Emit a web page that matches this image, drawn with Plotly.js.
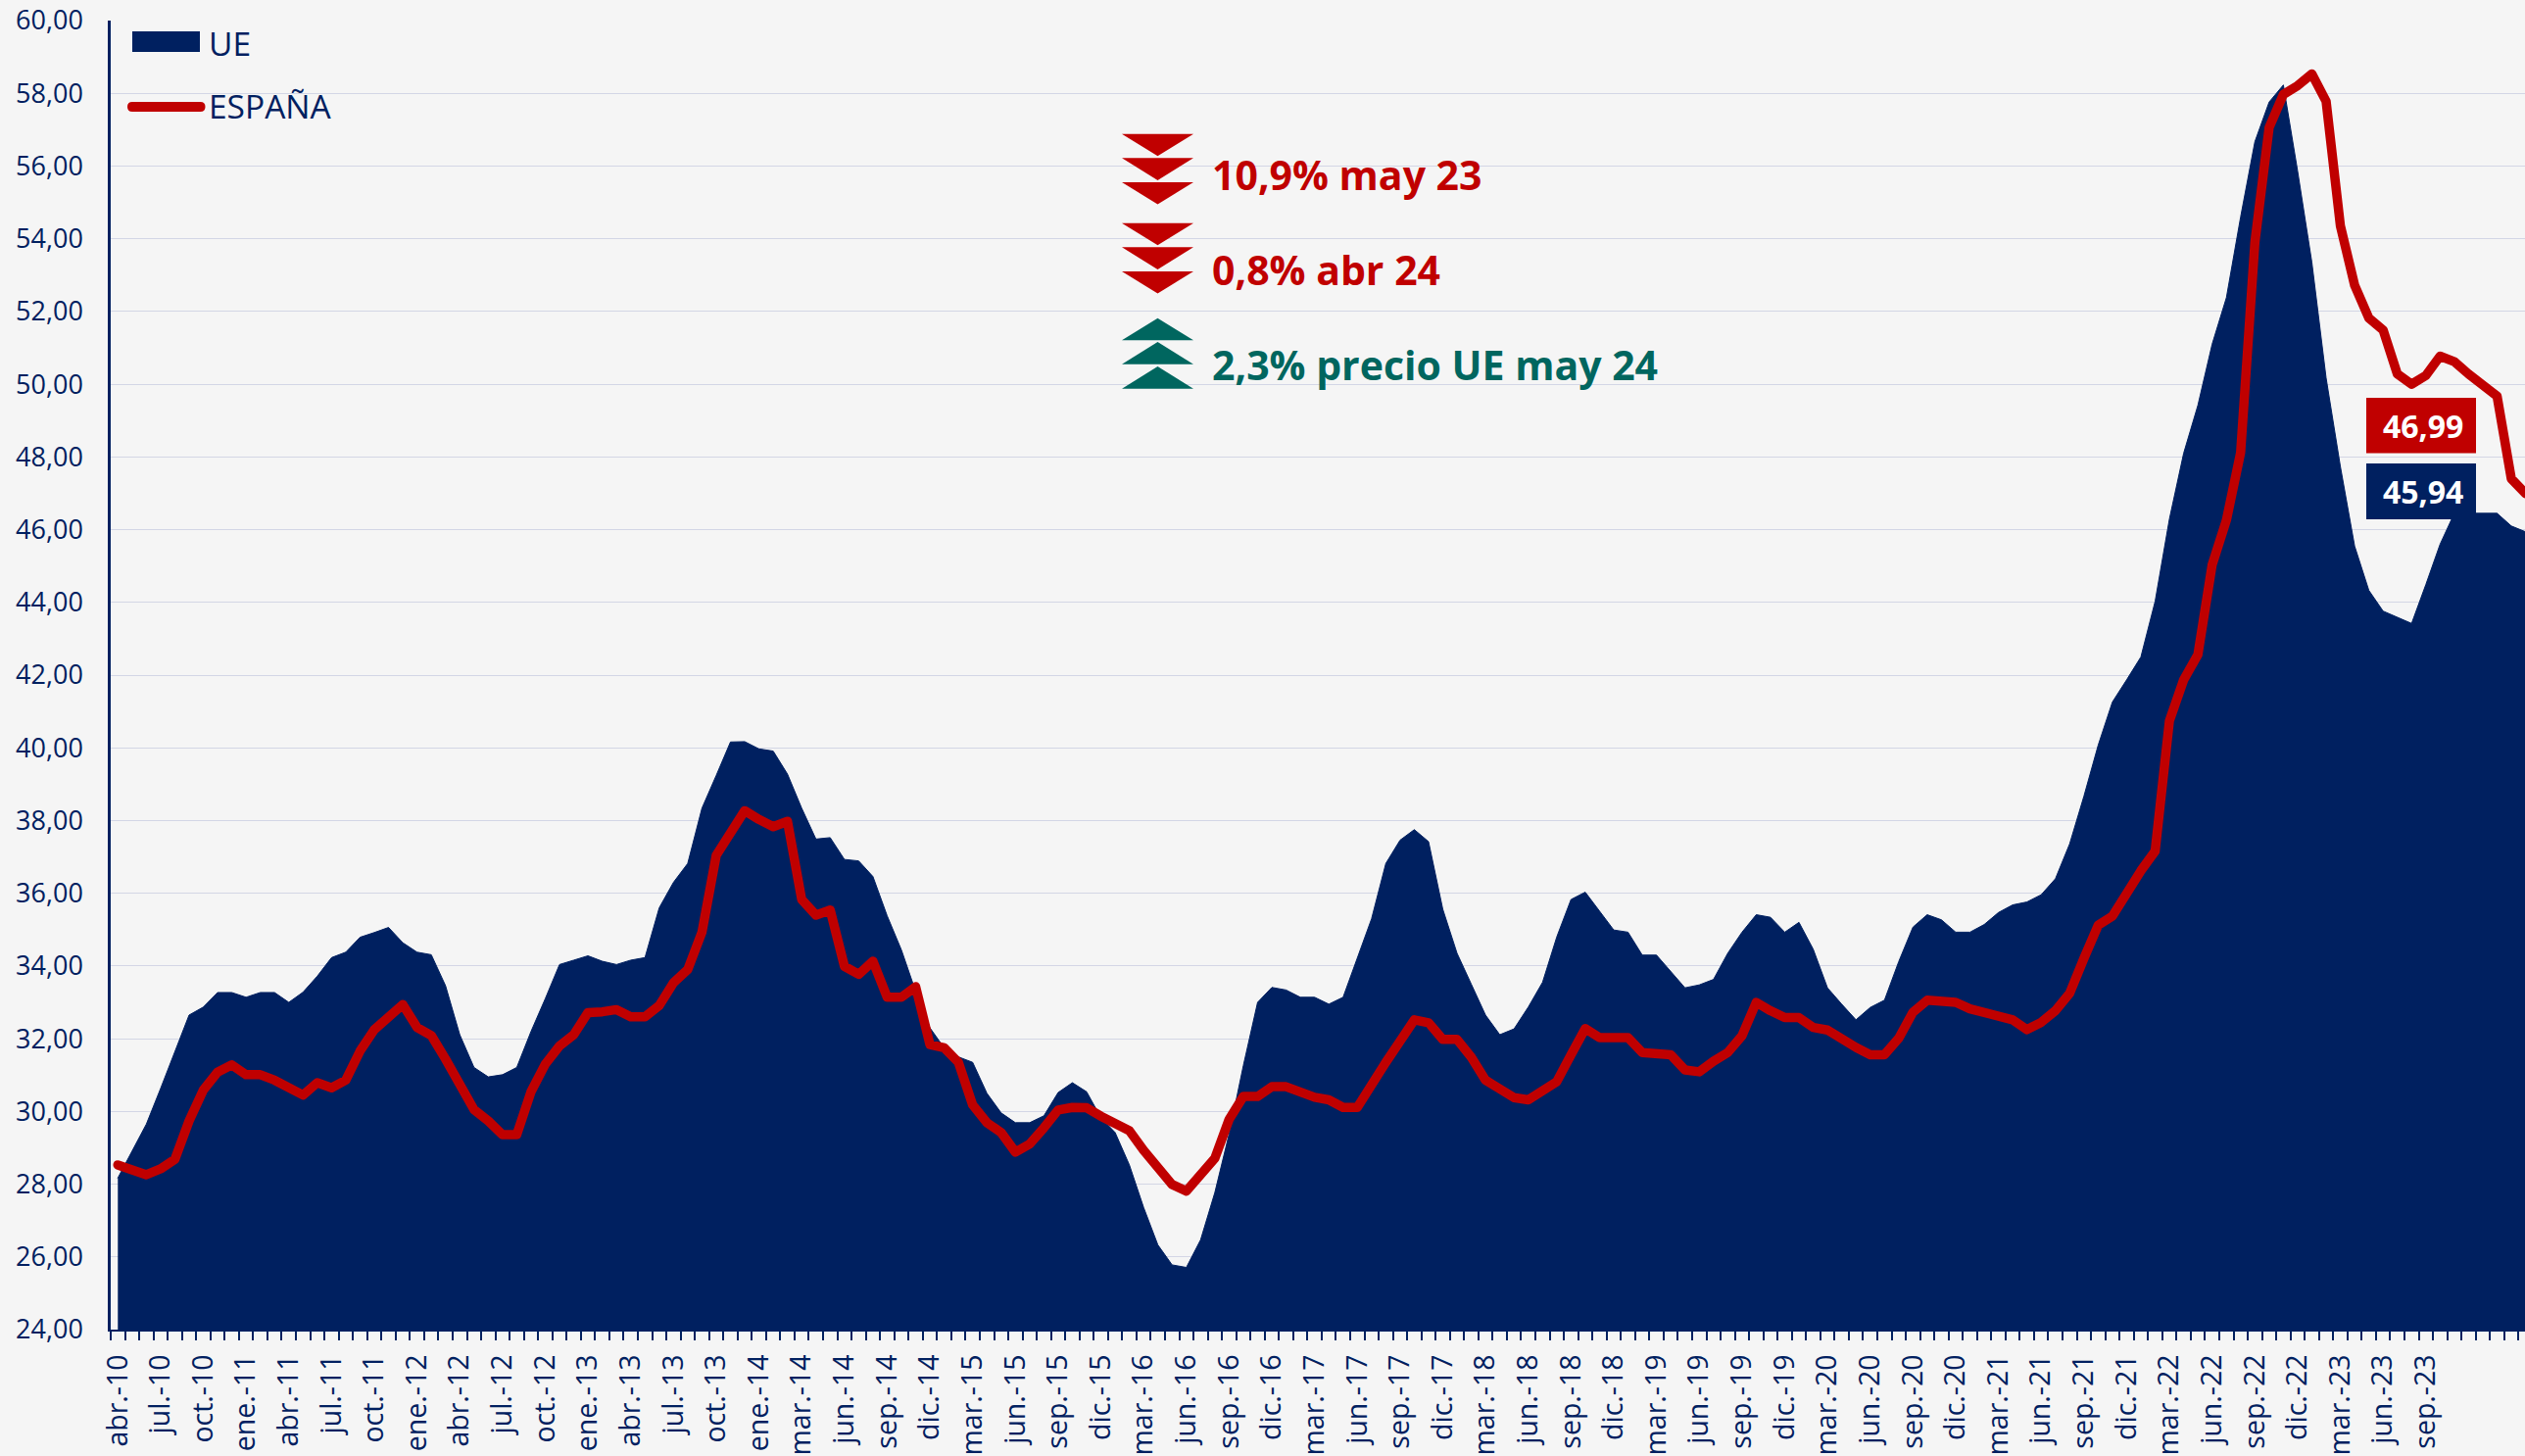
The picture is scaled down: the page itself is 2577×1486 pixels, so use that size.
<!DOCTYPE html>
<html>
<head>
<meta charset="utf-8">
<script src="https://cdn.plot.ly/plotly-3.0.1.min.js"></script>
<style>
html,body{margin:0;padding:0;background:#f5f5f5;overflow:hidden}
#chart{width:2577px;height:1486px}
.scatterlayer .js-line{stroke-linecap:round!important;stroke-linejoin:round!important}
</style>
</head>
<body>
<div id="chart"></div>
<script>
const months = [
"abr.-10","may.-10","jun.-10","jul.-10","ago.-10","sep.-10","oct.-10","nov.-10","dic.-10",
"ene.-11","feb.-11","mar.-11","abr.-11","may.-11","jun.-11","jul.-11","ago.-11","sep.-11","oct.-11","nov.-11","dic.-11",
"ene.-12","feb.-12","mar.-12","abr.-12","may.-12","jun.-12","jul.-12","ago.-12","sep.-12","oct.-12","nov.-12","dic.-12",
"ene.-13","feb.-13","mar.-13","abr.-13","may.-13","jun.-13","jul.-13","ago.-13","sep.-13","oct.-13","nov.-13","dic.-13",
"ene.-14","feb.-14","feb.-14 bis","mar.-14","abr.-14","may.-14","jun.-14","jul.-14","ago.-14","sep.-14","oct.-14","nov.-14","dic.-14",
"ene.-15","feb.-15","mar.-15","abr.-15","may.-15","jun.-15","jul.-15","ago.-15","sep.-15","oct.-15","nov.-15","dic.-15",
"ene.-16","feb.-16","mar.-16","abr.-16","may.-16","jun.-16","jul.-16","ago.-16","sep.-16","oct.-16","nov.-16","dic.-16",
"ene.-17","feb.-17","mar.-17","abr.-17","may.-17","jun.-17","jul.-17","ago.-17","sep.-17","oct.-17","nov.-17","dic.-17",
"ene.-18","feb.-18","mar.-18","abr.-18","may.-18","jun.-18","jul.-18","ago.-18","sep.-18","oct.-18","nov.-18","dic.-18",
"ene.-19","feb.-19","mar.-19","abr.-19","may.-19","jun.-19","jul.-19","ago.-19","sep.-19","oct.-19","nov.-19","dic.-19",
"ene.-20","feb.-20","mar.-20","abr.-20","may.-20","jun.-20","jul.-20","ago.-20","sep.-20","oct.-20","nov.-20","dic.-20",
"ene.-21","feb.-21","mar.-21","abr.-21","may.-21","jun.-21","jul.-21","ago.-21","sep.-21","oct.-21","nov.-21","dic.-21",
"ene.-22","feb.-22","mar.-22","abr.-22","may.-22","jun.-22","jul.-22","ago.-22","sep.-22","oct.-22","nov.-22","dic.-22",
"ene.-23","feb.-23","mar.-23","abr.-23","may.-23","jun.-23","jul.-23","ago.-23","sep.-23","oct.-23","nov.-23","dic.-23",
"ene.-24","feb.-24","mar.-24","abr.-24"];

const tickLabels = [
"abr.-10","jul.-10","oct.-10","ene.-11","abr.-11","jul.-11","oct.-11","ene.-12","abr.-12","jul.-12","oct.-12",
"ene.-13","abr.-13","jul.-13","oct.-13","ene.-14","mar.-14","jun.-14","sep.-14","dic.-14","mar.-15","jun.-15",
"sep.-15","dic.-15","mar.-16","jun.-16","sep.-16","dic.-16","mar.-17","jun.-17","sep.-17","dic.-17","mar.-18",
"jun.-18","sep.-18","dic.-18","mar.-19","jun.-19","sep.-19","dic.-19","mar.-20","jun.-20","sep.-20","dic.-20",
"mar.-21","jun.-21","sep.-21","dic.-21","mar.-22","jun.-22","sep.-22","dic.-22","mar.-23","jun.-23","sep.-23"];

const ue = [
28.17,28.89,29.65,30.63,31.66,32.65,32.87,33.27,33.27,33.14,33.27,33.27,33.0,33.28,33.72,34.23,34.38,34.79,34.92,35.06,
34.64,34.38,34.31,33.46,32.11,31.21,30.95,31.01,31.21,32.2,33.1,34.04,34.16,34.28,34.13,34.04,34.16,34.23,35.6,36.3,
36.82,38.34,39.24,40.16,40.17,39.97,39.91,39.28,38.34,37.49,37.53,36.93,36.89,36.46,35.38,34.44,33.3,32.3,31.75,31.5,
31.35,30.5,29.96,29.69,29.69,29.88,30.52,30.79,30.54,29.83,29.42,28.53,27.36,26.33,25.78,25.71,26.47,27.77,29.38,31.26,
33.0,33.41,33.34,33.14,33.14,32.95,33.14,34.2,35.3,36.82,37.46,37.75,37.42,35.56,34.35,33.5,32.65,32.11,32.27,32.87,
33.55,34.8,35.83,36.03,35.51,34.99,34.93,34.3,34.3,33.85,33.4,33.48,33.63,34.35,34.93,35.41,35.34,34.93,35.2,34.46,
33.4,32.95,32.52,32.86,33.06,34.12,35.07,35.41,35.27,34.93,34.93,35.14,35.47,35.68,35.76,35.96,36.4,37.36,38.67,40.07,
41.26,41.87,42.5,44.03,46.29,48.1,49.42,51.1,52.38,54.6,56.67,57.76,58.23,55.86,53.35,50.17,47.74,45.55,44.33,43.76,
43.58,43.42,44.49,45.6,46.45,46.45,46.45,46.45,46.1,45.94];

const espana = [
28.53,28.37,28.26,28.42,28.68,29.74,30.59,31.08,31.28,31.01,31.01,30.86,30.65,30.45,30.79,30.65,30.86,31.66,32.25,32.56,
32.94,32.31,32.09,31.44,30.77,30.05,29.74,29.36,29.36,30.54,31.3,31.8,32.11,32.72,32.74,32.8,32.6,32.6,32.91,33.54,
33.9,34.93,37.04,37.62,38.27,38.03,37.83,37.98,35.83,35.4,35.54,33.99,33.77,34.13,33.14,33.14,33.43,31.84,31.75,31.35,
30.18,29.69,29.42,28.88,29.1,29.55,30.04,30.11,30.1,29.87,29.65,29.47,28.93,28.44,27.99,27.81,28.26,28.71,29.78,30.41,
30.41,30.68,30.68,30.54,30.39,30.32,30.11,30.11,30.77,31.35,31.93,32.52,32.44,31.98,31.98,31.49,30.86,30.65,30.38,30.32,
30.59,30.82,31.56,32.28,32.03,32.03,32.03,31.62,31.62,31.56,31.14,31.09,31.38,31.62,32.08,33.0,32.77,32.58,32.58,32.31,
32.24,31.98,31.76,31.56,31.56,32.01,32.73,33.06,33.0,33.0,32.82,32.73,32.59,32.52,32.25,32.45,32.77,33.25,34.21,35.12,
35.37,36.03,36.62,37.16,40.74,41.87,42.56,45.03,46.26,48.12,53.9,57.06,57.97,58.21,58.53,57.78,54.36,52.72,51.82,51.49,
50.28,50.0,50.24,50.77,50.62,50.28,49.95,49.67,47.4,46.99];

const notes = ["10,9% may 23","0,8% abr 24","2,3% precio UE may 24"];
const lastLabels = ["46,99","45,94"];

const NAVY="#002060", RED="#C00000", TEAL="#00665F";
const W=2577,H=1486,L=113,T=21,B=1357;
const px=x=>(x-L)/(W-L), py=y=>(B-y)/(B-T);
const FONT="'Open Sans', sans-serif";

// tick text: a label every third position, as in the reference
const tickText = months.map((m,i)=> (i%3===0 && tickLabels[i/3]) ? tickLabels[i/3] : "");

function tri(x0,x1,yBase,yApex,color){
  const m=(x0+x1)/2;
  return {type:"path",xref:"paper",yref:"paper",layer:"above",fillcolor:color,line:{width:0},
    path:`M${px(x0)},${py(yBase)}L${px(x1)},${py(yBase)}L${px(m)},${py(yApex)}Z`};
}
const shapes=[];
[136.7,161.3,186,227.7,252.3,277].forEach(t=>shapes.push(tri(1145,1218,t,t+22.6,RED)));
[347.3,371.7,396.7].forEach(b=>shapes.push(tri(1145,1218,b,b-22.6,TEAL)));
// legend keys
shapes.push({type:"rect",xref:"paper",yref:"paper",layer:"above",x0:px(135),x1:px(204),y0:py(53),y1:py(32),fillcolor:NAVY,line:{width:0}});
(function(){
  const x0=130,x1=209.5,yc=109,r=5;
  shapes.push({type:"path",xref:"paper",yref:"paper",layer:"above",fillcolor:RED,line:{width:0},
   path:`M${px(x0+r)},${py(yc-r)}L${px(x1-r)},${py(yc-r)}Q${px(x1)},${py(yc-r)} ${px(x1)},${py(yc)}Q${px(x1)},${py(yc+r)} ${px(x1-r)},${py(yc+r)}L${px(x0+r)},${py(yc+r)}Q${px(x0)},${py(yc+r)} ${px(x0)},${py(yc)}Q${px(x0)},${py(yc-r)} ${px(x0+r)},${py(yc-r)}Z`});
})();

const ann=(x,y,text,color,size,weight,extra)=>Object.assign({xref:"paper",yref:"paper",x:px(x),y:py(y),text,showarrow:false,
  xanchor:"left",yanchor:"middle",font:{family:FONT,size,color,weight}},extra||{});
const annotations=[
  ann(211,44,"UE",NAVY,33.5,400),
  ann(211,108,"ESPAÑA",NAVY,33.5,400),
  ann(1235,178,notes[0],RED,41,700),
  ann(1235,275,notes[1],RED,41,700),
  ann(1235,372,notes[2],TEAL,41,700),
  ann(2473,434,lastLabels[0],"#ffffff",32,700,{xanchor:"center",bgcolor:"rgba(0,0,0,0)"}),
  ann(2473,501.5,lastLabels[1],"#ffffff",32,700,{xanchor:"center",bgcolor:"rgba(0,0,0,0)"})
];
shapes.push({type:"rect",xref:"paper",yref:"paper",layer:"above",x0:px(2415),x1:px(2527),y0:py(462.5),y1:py(406),fillcolor:RED,line:{width:0}});
shapes.push({type:"rect",xref:"paper",yref:"paper",layer:"above",x0:px(2415),x1:px(2527),y0:py(530),y1:py(473),fillcolor:NAVY,line:{width:0}});

const traces=[
 {type:"scatter",mode:"lines",name:"UE",x:months,y:ue,fill:"tozeroy",fillcolor:NAVY,line:{color:NAVY,width:1},hoverinfo:"x+y+name"},
 {type:"scatter",mode:"lines",name:"ESPAÑA",x:months,y:espana,line:{color:RED,width:9.5},hoverinfo:"x+y+name"}
];

const layout={
 width:W,height:H,showlegend:false,separators:",.",
 paper_bgcolor:"#f5f5f5",plot_bgcolor:"rgba(0,0,0,0)",
 margin:{l:L,r:0,t:T,b:H-B,pad:0},
 font:{family:FONT,color:NAVY},
 xaxis:{type:"category",categoryorder:"array",categoryarray:months,range:[-0.5,168.96],
   tickmode:"array",tickvals:months,ticktext:tickText,tickson:"boundaries",ticks:"outside",ticklen:9,tickwidth:1.5,tickcolor:NAVY,
   tickangle:-90,tickfont:{family:FONT,size:28.5,color:NAVY},ticklabelstandoff:12,
   showline:true,linecolor:NAVY,linewidth:2,showgrid:false,zeroline:false,automargin:false},
 yaxis:{range:[24,60],tick0:24,dtick:2,tickformat:".2f",ticks:"",tickfont:{family:FONT,size:27,color:NAVY},ticklabelstandoff:20,
   showline:true,linecolor:NAVY,linewidth:2.5,showgrid:true,gridcolor:"#d3d6e5",gridwidth:1.2,zeroline:false,automargin:false},
 shapes,annotations
};
Plotly.newPlot("chart",traces,layout,{displayModeBar:false,responsive:false});
</script>
</body>
</html>
